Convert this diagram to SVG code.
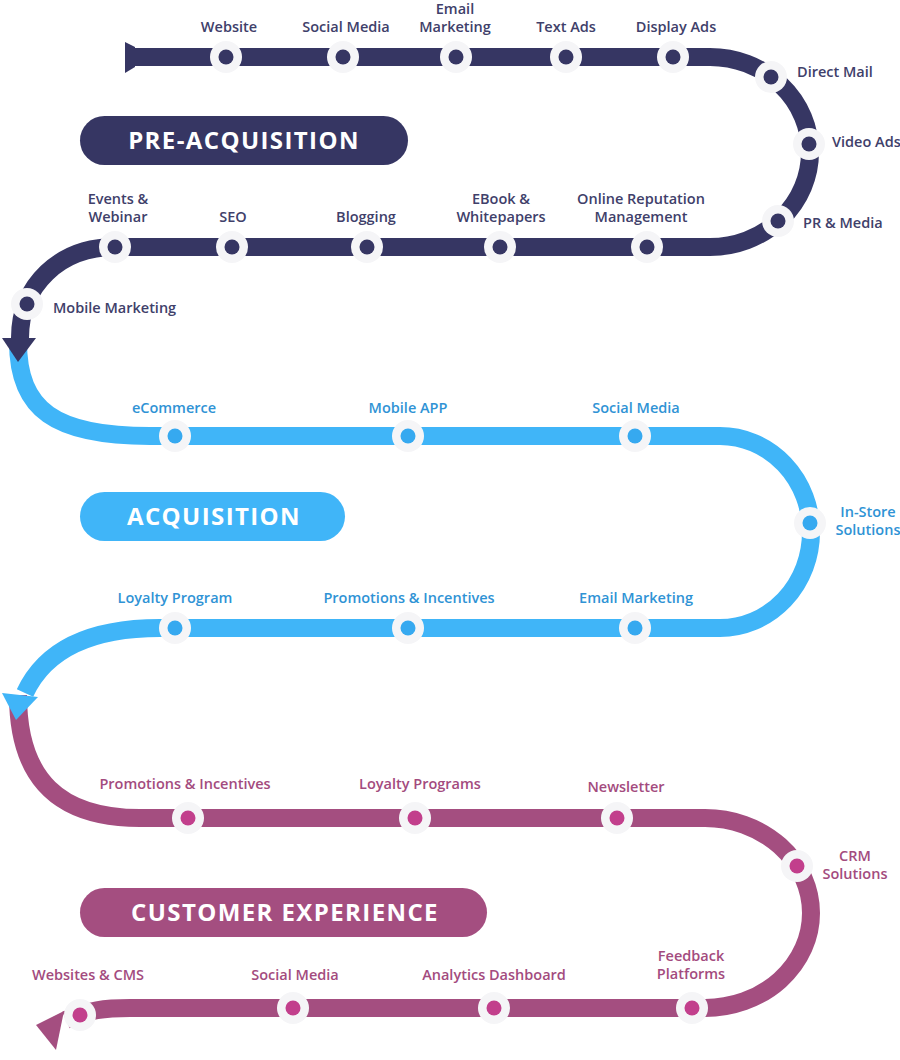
<svg xmlns="http://www.w3.org/2000/svg" width="900" height="1060" viewBox="0 0 900 1060">
<defs>
<style>
.lbl{font-family:"Open Sans","Liberation Sans",sans-serif;font-size:14.5px;font-weight:600}
.nv{fill:#40406a}
.bl{fill:#2f93d5}
.pu{fill:#a34b7e}
.mid{text-anchor:middle}
.head{font-family:"Open Sans","Liberation Sans",sans-serif;font-size:24px;font-weight:700;fill:#ffffff;letter-spacing:1.4px;text-anchor:middle}
.ring{fill:#f5f5f7}
.line{fill:none;stroke-width:18}
.dn{fill:#363663}
.db{fill:#36a9f0}
.dp{fill:#c23f8c}
</style>
</defs>
<rect width="900" height="1060" fill="#ffffff"/>

<g id="connectors">
  <path class="line" stroke="#a44e80" d="M18,695 C18,780 60,818 140,818 H705 A106,95 0 0 1 705,1008 H130 C105,1008 88,1010 66,1020"/>
  <polygon fill="#a44e80" points="36,1025 64,1011 56,1050"/>
  <path class="line" stroke="#40b5f8" d="M18,342 C18,410 55,436 150,436 H720 A91,96 0 0 1 720,628 H160 C90,628 45,650 25,693"/>
  <polygon fill="#40b5f8" points="2,693 38,697 16,720"/>
  <path class="line" stroke="#363663" d="M134,57 H710 A100,95 0 0 1 710,247 H115 C60,247 20,285 20,338"/>
  <polygon fill="#363663" points="125,42 135,47 135,67 125,73"/>
  <polygon fill="#363663" points="2,338 36,338 18,362"/>
</g>

<g id="pre-acquisition">
  <rect x="80" y="116" width="328" height="49" rx="24.5" fill="#363663"/>
  <text class="head" x="244" y="149">PRE-ACQUISITION</text>
</g>
<g id="acquisition">
  <rect x="80" y="492" width="265" height="49" rx="24.5" fill="#40b5f8"/>
  <text class="head" x="214" y="525">ACQUISITION</text>
</g>
<g id="customer-experience">
  <rect x="80" y="888" width="407" height="49" rx="24.5" fill="#a44e80"/>
  <text class="head" x="285" y="921">CUSTOMER EXPERIENCE</text>
</g>

<g id="n-website"><circle class="ring" cx="226" cy="57" r="16"/><circle class="dn" cx="226" cy="57" r="7.5"/><text class="lbl nv mid" x="229" y="32">Website</text></g>
<g id="n-social-media-1"><circle class="ring" cx="343" cy="57" r="16"/><circle class="dn" cx="343" cy="57" r="7.5"/><text class="lbl nv mid" x="346" y="32">Social Media</text></g>
<g id="n-email-marketing-1"><circle class="ring" cx="456" cy="57" r="16"/><circle class="dn" cx="456" cy="57" r="7.5"/><text class="lbl nv mid" x="455" y="14">Email</text><text class="lbl nv mid" x="455" y="32">Marketing</text></g>
<g id="n-text-ads"><circle class="ring" cx="566" cy="57" r="16"/><circle class="dn" cx="566" cy="57" r="7.5"/><text class="lbl nv mid" x="566" y="32">Text Ads</text></g>
<g id="n-display-ads"><circle class="ring" cx="673" cy="57" r="16"/><circle class="dn" cx="673" cy="57" r="7.5"/><text class="lbl nv mid" x="676" y="32">Display Ads</text></g>
<g id="n-direct-mail"><circle class="ring" cx="771" cy="77" r="16"/><circle class="dn" cx="771" cy="77" r="7.5"/><text class="lbl nv" x="797" y="77">Direct Mail</text></g>
<g id="n-video-ads"><circle class="ring" cx="809" cy="144" r="16"/><circle class="dn" cx="809" cy="144" r="7.5"/><text class="lbl nv" x="832" y="147">Video Ads</text></g>
<g id="n-pr-media"><circle class="ring" cx="778" cy="221" r="16"/><circle class="dn" cx="778" cy="221" r="7.5"/><text class="lbl nv" x="803" y="228">PR &amp; Media</text></g>
<g id="n-online-reputation"><circle class="ring" cx="647" cy="247" r="16"/><circle class="dn" cx="647" cy="247" r="7.5"/><text class="lbl nv mid" x="641" y="204">Online Reputation</text><text class="lbl nv mid" x="641" y="222">Management</text></g>
<g id="n-ebook"><circle class="ring" cx="500" cy="247" r="16"/><circle class="dn" cx="500" cy="247" r="7.5"/><text class="lbl nv mid" x="501" y="204">EBook &amp;</text><text class="lbl nv mid" x="501" y="222">Whitepapers</text></g>
<g id="n-blogging"><circle class="ring" cx="367" cy="247" r="16"/><circle class="dn" cx="367" cy="247" r="7.5"/><text class="lbl nv mid" x="366" y="222">Blogging</text></g>
<g id="n-seo"><circle class="ring" cx="232" cy="247" r="16"/><circle class="dn" cx="232" cy="247" r="7.5"/><text class="lbl nv mid" x="233" y="222">SEO</text></g>
<g id="n-events"><circle class="ring" cx="115" cy="247" r="16"/><circle class="dn" cx="115" cy="247" r="7.5"/><text class="lbl nv mid" x="118" y="204">Events &amp;</text><text class="lbl nv mid" x="118" y="222">Webinar</text></g>
<g id="n-mobile-marketing"><circle class="ring" cx="27" cy="304" r="16"/><circle class="dn" cx="27" cy="304" r="7.5"/><text class="lbl nv" x="53" y="313">Mobile Marketing</text></g>

<g id="a-ecommerce"><circle class="ring" cx="175" cy="436" r="16"/><circle class="db" cx="175" cy="436" r="7.5"/><text class="lbl bl mid" x="174" y="413">eCommerce</text></g>
<g id="a-mobile-app"><circle class="ring" cx="408" cy="436" r="16"/><circle class="db" cx="408" cy="436" r="7.5"/><text class="lbl bl mid" x="408" y="413">Mobile APP</text></g>
<g id="a-social-media"><circle class="ring" cx="635" cy="436" r="16"/><circle class="db" cx="635" cy="436" r="7.5"/><text class="lbl bl mid" x="636" y="413">Social Media</text></g>
<g id="a-in-store"><circle class="ring" cx="810" cy="523" r="16"/><circle class="db" cx="810" cy="523" r="7.5"/><text class="lbl bl mid" x="868" y="517">In-Store</text><text class="lbl bl mid" x="868" y="535">Solutions</text></g>
<g id="a-email-marketing"><circle class="ring" cx="635" cy="628" r="16"/><circle class="db" cx="635" cy="628" r="7.5"/><text class="lbl bl mid" x="636" y="603">Email Marketing</text></g>
<g id="a-promotions"><circle class="ring" cx="408" cy="628" r="16"/><circle class="db" cx="408" cy="628" r="7.5"/><text class="lbl bl mid" x="409" y="603">Promotions &amp; Incentives</text></g>
<g id="a-loyalty"><circle class="ring" cx="175" cy="628" r="16"/><circle class="db" cx="175" cy="628" r="7.5"/><text class="lbl bl mid" x="175" y="603">Loyalty Program</text></g>

<g id="c-promotions"><circle class="ring" cx="188" cy="818" r="16"/><circle class="dp" cx="188" cy="818" r="7.5"/><text class="lbl pu mid" x="185" y="789">Promotions &amp; Incentives</text></g>
<g id="c-loyalty"><circle class="ring" cx="415" cy="818" r="16"/><circle class="dp" cx="415" cy="818" r="7.5"/><text class="lbl pu mid" x="420" y="789">Loyalty Programs</text></g>
<g id="c-newsletter"><circle class="ring" cx="617" cy="818" r="16"/><circle class="dp" cx="617" cy="818" r="7.5"/><text class="lbl pu mid" x="626" y="792">Newsletter</text></g>
<g id="c-crm"><circle class="ring" cx="797" cy="866" r="16"/><circle class="dp" cx="797" cy="866" r="7.5"/><text class="lbl pu mid" x="855" y="861">CRM</text><text class="lbl pu mid" x="855" y="879">Solutions</text></g>
<g id="c-feedback"><circle class="ring" cx="692" cy="1008" r="16"/><circle class="dp" cx="692" cy="1008" r="7.5"/><text class="lbl pu mid" x="691" y="961">Feedback</text><text class="lbl pu mid" x="691" y="979">Platforms</text></g>
<g id="c-analytics"><circle class="ring" cx="494" cy="1008" r="16"/><circle class="dp" cx="494" cy="1008" r="7.5"/><text class="lbl pu mid" x="494" y="980">Analytics Dashboard</text></g>
<g id="c-social-media"><circle class="ring" cx="293" cy="1008" r="16"/><circle class="dp" cx="293" cy="1008" r="7.5"/><text class="lbl pu mid" x="295" y="980">Social Media</text></g>
<g id="c-websites"><circle class="ring" cx="80" cy="1015" r="16"/><circle class="dp" cx="80" cy="1015" r="7.5"/><text class="lbl pu mid" x="88" y="980">Websites &amp; CMS</text></g>
</svg>
